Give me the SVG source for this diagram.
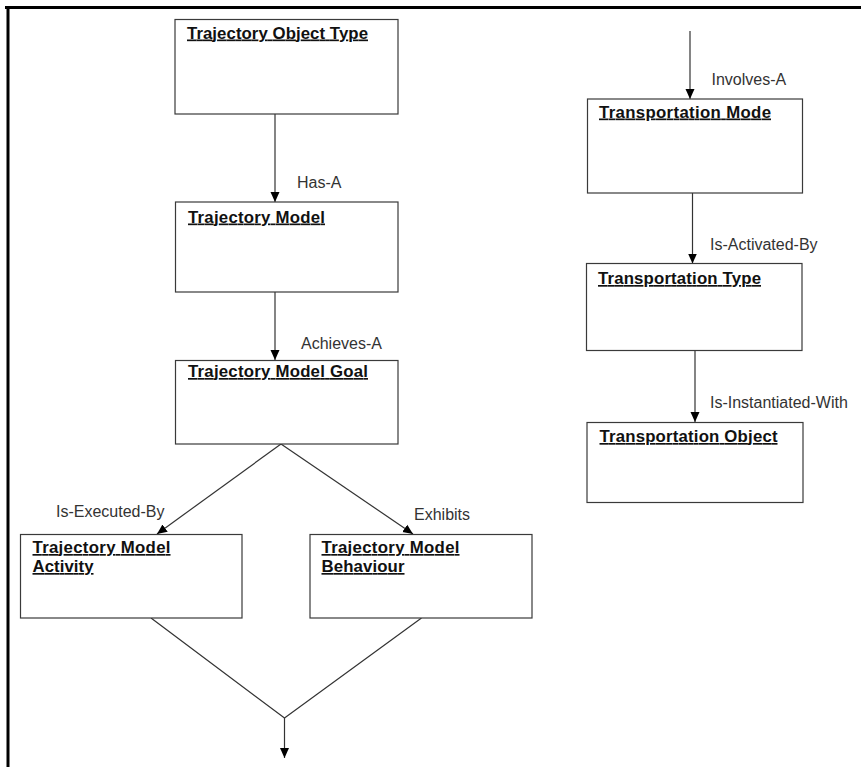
<svg xmlns="http://www.w3.org/2000/svg" width="861" height="767" viewBox="0 0 861 767">
<defs>
<marker id="arr" markerWidth="10" markerHeight="10" refX="10" refY="5" orient="auto" markerUnits="userSpaceOnUse">
<path d="M0,0.5 L10,5 L0,9.5 Z" fill="#000"/>
</marker>
<style>
.box{fill:#fff;stroke:#3a3a3a;stroke-width:1.2}
.t{font-family:"Liberation Sans",Arial,sans-serif;font-weight:bold;font-size:16.8px;fill:#111;text-decoration:underline}
.l{font-family:"Liberation Sans",Arial,sans-serif;font-size:16px;fill:#333}
.c{stroke:#333;stroke-width:1.2;fill:none}
.ca{stroke:#333;stroke-width:1.2;fill:none;marker-end:url(#arr)}
</style>
</defs>
<rect width="861" height="767" fill="#fff"/>
<g id="frame">
<line x1="5" y1="7.5" x2="861" y2="7.5" stroke="#000" stroke-width="3"/>
<line x1="8" y1="6" x2="8" y2="767" stroke="#000" stroke-width="3"/>
</g>
<g id="connectors">
<line class="ca" x1="275" y1="114" x2="275" y2="202"/>
<line class="ca" x1="275" y1="292" x2="275" y2="360"/>
<line class="ca" x1="281" y1="444" x2="157" y2="534"/>
<line class="ca" x1="281" y1="444" x2="413" y2="534"/>
<polyline class="c" points="151,618 284.5,718 421.5,618"/>
<line class="ca" x1="284.5" y1="718" x2="284.5" y2="758"/>
<line class="ca" x1="690" y1="31" x2="690" y2="99"/>
<line class="ca" x1="692.5" y1="193" x2="692.5" y2="263.5"/>
<line class="ca" x1="695" y1="351" x2="695" y2="422"/>
<text class="l" x="297" y="188">Has-A</text>
<text class="l" x="301" y="349">Achieves-A</text>
<text class="l" x="56" y="517">Is-Executed-By</text>
<text class="l" x="414" y="520">Exhibits</text>
<text class="l" x="711.5" y="85">Involves-A</text>
<text class="l" x="710" y="250">Is-Activated-By</text>
<text class="l" x="710" y="408">Is-Instantiated-With</text>
</g>
<g id="trajectory-object-type">
<rect class="box" x="175" y="19.5" width="223" height="94.5"/>
<text class="t" x="187" y="38.5" textLength="181" lengthAdjust="spacing">Trajectory Object Type</text>
</g>
<g id="trajectory-model">
<rect class="box" x="175.5" y="202" width="222.5" height="90"/>
<text class="t" x="188" y="222.5" textLength="137" lengthAdjust="spacing">Trajectory Model</text>
</g>
<g id="trajectory-model-goal">
<rect class="box" x="175.5" y="360.5" width="222.5" height="83.5"/>
<text class="t" x="188" y="377" textLength="180" lengthAdjust="spacing">Trajectory Model Goal</text>
</g>
<g id="trajectory-model-activity">
<rect class="box" x="20.5" y="534.5" width="221.5" height="83.5"/>
<text class="t" x="32.5" y="553" textLength="138" lengthAdjust="spacing">Trajectory Model</text>
<text class="t" x="32.5" y="572" textLength="61" lengthAdjust="spacing">Activity</text>
</g>
<g id="trajectory-model-behaviour">
<rect class="box" x="310" y="534.5" width="222" height="83.5"/>
<text class="t" x="321.5" y="553" textLength="138" lengthAdjust="spacing">Trajectory Model</text>
<text class="t" x="321.5" y="572" textLength="83" lengthAdjust="spacing">Behaviour</text>
</g>
<g id="transportation-mode">
<rect class="box" x="587.5" y="99" width="215" height="94"/>
<text class="t" x="599" y="117.5" textLength="172" lengthAdjust="spacing">Transportation Mode</text>
</g>
<g id="transportation-type">
<rect class="box" x="586.5" y="263.5" width="215.5" height="87"/>
<text class="t" x="598" y="284" textLength="163" lengthAdjust="spacing">Transportation Type</text>
</g>
<g id="transportation-object">
<rect class="box" x="587" y="422.5" width="216" height="80"/>
<text class="t" x="599.5" y="442" textLength="178" lengthAdjust="spacing">Transportation Object</text>
</g>
</svg>
